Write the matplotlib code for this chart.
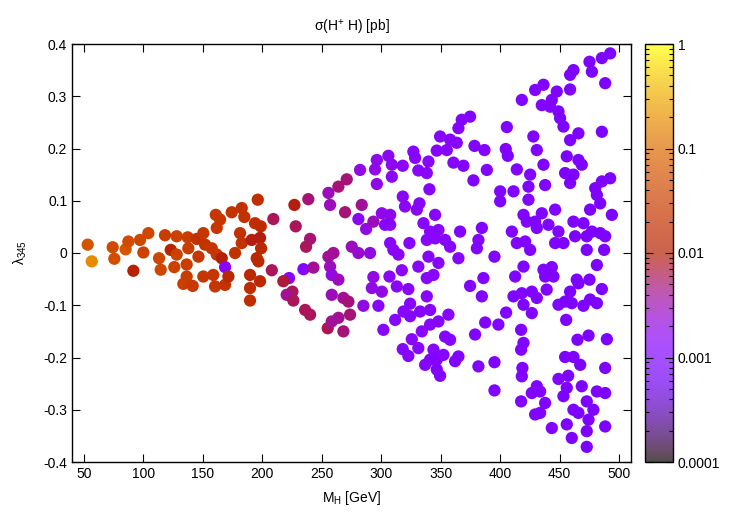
import numpy as np
import matplotlib
matplotlib.use("Agg")
import matplotlib.pyplot as plt
from matplotlib.colors import ListedColormap, LogNorm
from matplotlib.cm import ScalarMappable
from matplotlib.ticker import LogLocator, FixedLocator, NullFormatter

plt.rcParams['font.family'] = ['Liberation Sans', 'DejaVu Sans']
plt.rcParams['font.size'] = 10

# M_H < 200 GeV
mh_a = [53.2, 56.6, 74.2, 75.6, 85.1, 87.4, 91.6, 97.2, 100.0, 104.2, 113.2, 114.6, 118.2, 123.0, 128.0,
        128.0, 126.0, 137.3, 137.8, 136.4, 136.4, 133.6, 141.5, 144.9, 146.3,
        150.4, 151.9, 157.5, 161.7, 165.9, 168.7, 150.4, 158.8, 160.3, 168.7, 171.5, 160.9, 164.5, 161.7,
        174.3, 182.7, 184.9, 196.2, 181.3, 182.7, 177.1, 191.1, 193.9, 198.7, 198.1, 199.0, 195.3, 196.7,
        189.7, 198.1, 189.7, 189.7]
lam_a = [0.016, -0.016, 0.011, -0.011, 0.007, 0.022, -0.034, 0.025, 0.001, 0.038, -0.010, -0.032, 0.034, 0.006, 0.032,
         -0.003, -0.027, 0.030, 0.009, -0.022, -0.045, -0.059, -0.063, 0.027, -0.007,
         0.038, 0.016, 0.009, -0.003, -0.010, -0.027, -0.045, -0.042, -0.064, -0.061, -0.045, 0.073, 0.064, 0.048,
         0.078, 0.086, 0.069, 0.102, 0.038, 0.019, 0.000, 0.025, 0.057, 0.051, 0.029, 0.009, -0.010, -0.016,
         -0.042, -0.054, -0.067, -0.091]
sig_a = [0.06, 0.18, 0.045, 0.05, 0.06, 0.045, 0.011, 0.04, 0.035, 0.04, 0.04, 0.04, 0.03, 0.012, 0.035,
         0.035, 0.035, 0.03, 0.03, 0.03, 0.03, 0.03, 0.027, 0.02, 0.025,
         0.025, 0.022, 0.025, 0.025, 0.01, 0.0012, 0.025, 0.025, 0.025, 0.022, 0.014, 0.025, 0.025, 0.025,
         0.022, 0.02, 0.02, 0.018, 0.02, 0.02, 0.02, 0.009, 0.018, 0.016, 0.009, 0.015, 0.015, 0.015,
         0.014, 0.015, 0.016, 0.018]

# 200 - 300 GeV
mh_b = [209.3, 208.0, 227.0, 228.1, 238.7, 240.2, 236.8, 222.5, 217.7, 225.3, 220.5, 226.1, 234.6, 243.0,
        236.0, 240.2, 255.0, 255.6, 257.0, 255.6, 257.0, 258.4, 258.4, 258.4,
        259.8, 264.0, 271.0, 269.6, 282.2, 296.3, 294.8, 296.3, 283.6, 280.8, 287.3, 293.4, 275.2, 280.8, 290.6,
        264.0, 268.2, 272.4, 273.8, 264.0, 268.2, 285.0, 297.6, 293.4, 292.1]
lam_b = [0.065, -0.033, 0.092, 0.051, 0.103, 0.027, 0.012, -0.048, -0.054, -0.074, -0.080, -0.091, -0.031, -0.028,
         -0.109, -0.118, -0.144, 0.115, 0.092, -0.007, -0.026, -0.042, -0.080, -0.131,
         0.000, 0.127, 0.141, 0.078, 0.159, 0.178, 0.160, 0.132, 0.092, 0.065, 0.046, 0.060, 0.012, 0.000, 0.000,
         -0.051, -0.086, -0.093, -0.118, -0.124, -0.150, -0.101, -0.101, -0.046, -0.067]
sig_b = [0.006, 0.006, 0.009, 0.006, 0.005, 0.005, 0.006, 0.0012, 0.007, 0.006, 0.004, 0.006, 0.0012, 0.004,
         0.006, 0.006, 0.006, 0.003, 0.003, 0.004, 0.003, 0.002, 0.003, 0.004,
         0.004, 0.005, 0.005, 0.005, 0.002, 0.0018, 0.0018, 0.0018, 0.004, 0.0015, 0.002, 0.003, 0.003, 0.0025, 0.002,
         0.003, 0.004, 0.005, 0.005, 0.004, 0.005, 0.002, 0.0013, 0.002, 0.002]

# 300 - 400 GeV
mh_c = [300.5, 307.5, 303.2, 307.5, 306.0, 308.9, 308.9, 318.1, 318.1, 320.0, 327.0, 328.5, 331.2, 332.1,
        329.9, 338.3, 339.7, 346.7, 349.5, 340.5, 345.3, 335.5, 341.1, 348.1, 338.3, 345.3, 323.7, 307.5,
        310.2, 314.5, 339.7,
        300.5, 306.9, 317.3, 313.1, 322.8, 331.2, 338.3, 343.9, 338.3, 324.3, 318.7, 332.7, 341.1, 311.7,
        324.3, 301.8, 334.1, 341.1, 325.7, 331.2, 318.1, 322.8, 343.9, 336.9, 341.1, 346.7, 346.7,
        374.7, 367.7, 364.9, 357.9, 363.5, 355.1, 360.7, 369.1, 378.4, 386.8, 388.8, 377.5, 353.7, 357.9,
        366.3, 384.6, 381.7, 380.4, 364.9, 395.2,
        348.1, 385.9, 374.7, 384.6, 387.4, 398.5, 356.5, 348.1, 353.7, 357.9, 378.9, 352.3, 364.9, 362.1,
        381.7, 395.2, 349.5, 395.2]
lam_c = [0.076, 0.073, 0.054, 0.054, 0.186, 0.169, 0.146, 0.167, 0.108, 0.089, 0.194, 0.182, 0.158, 0.095,
         0.083, 0.153, 0.175, 0.196, 0.223, 0.122, 0.073, 0.057, 0.041, 0.044, 0.025, 0.028, 0.019, 0.019,
         0.006, -0.003, -0.007,
         -0.074, -0.045, -0.033, -0.064, -0.069, -0.026, -0.048, -0.042, -0.083, -0.097, -0.112, -0.112, -0.109, -0.128,
         -0.121, -0.147, -0.150, -0.137, -0.165, -0.182, -0.184, -0.197, -0.185, -0.214, -0.204, -0.223, -0.204,
         0.261, 0.255, 0.239, 0.217, 0.211, 0.197, 0.173, 0.167, 0.205, 0.197, 0.159, 0.139, 0.025, 0.012,
         0.041, 0.048, 0.025, 0.009, -0.010, -0.007,
         -0.019, -0.048, -0.063, -0.083, -0.133, -0.137, -0.118, -0.131, -0.160, -0.166, -0.156, -0.195, -0.198, -0.207,
         -0.217, -0.209, -0.235, -0.263]
sig_c = [0.0018, 0.0018, 0.0013, 0.0013, 0.0016, 0.0016, 0.0016, 0.0015, 0.0015, 0.0015, 0.0012, 0.0012, 0.0013, 0.0014,
         0.0014, 0.0013, 0.0013, 0.0012, 0.0012, 0.0012, 0.0013, 0.0013, 0.0013, 0.0013, 0.0013, 0.0013, 0.0012, 0.0012,
         0.0015, 0.0015, 0.0014,
         0.002, 0.0013, 0.0015, 0.0015, 0.0014, 0.0014, 0.0013, 0.0013, 0.0013, 0.0012, 0.0012, 0.0012, 0.0012, 0.0012,
         0.0012, 0.0015, 0.0013, 0.0012, 0.0013, 0.0013, 0.0012, 0.0012, 0.0012, 0.0012, 0.0011, 0.0011, 0.0011,
         0.0011, 0.0011, 0.0011, 0.0012, 0.0012, 0.0012, 0.0012, 0.0011, 0.0011, 0.0011, 0.0011, 0.0011, 0.0012, 0.0012,
         0.0011, 0.0011, 0.0011, 0.0011, 0.0012, 0.001,
         0.0014, 0.0011, 0.0011, 0.0011, 0.0011, 0.001, 0.0012, 0.0012, 0.0012, 0.0012, 0.0011, 0.0012, 0.0011, 0.0011,
         0.0011, 0.001, 0.0011, 0.001]

# 400 - 500 GeV
mh_d = [418.2, 429.4, 405.6, 404.7, 406.4, 414.0, 400.0, 400.0, 411.2, 425.2, 423.8, 423.8, 409.8, 419.6,
        422.4, 414.0, 421.0, 425.2,
        412.6, 419.6, 411.2, 418.2, 419.6, 426.6, 405.0, 417.6, 419.6, 417.6, 418.7, 418.2, 417.6, 426.6, 429.4,
        492.5, 485.5, 475.1, 477.1, 488.3, 461.6, 458.8, 458.8, 436.4, 447.6,
        443.4, 435.0, 442.0, 449.0, 450.4, 453.2, 485.5, 465.8, 458.8, 427.9,
        430.8, 456.0, 465.8, 468.6, 436.4, 454.6, 461.6, 458.8, 437.8, 492.5,
        485.5, 479.9, 481.3, 484.1, 475.6, 493.9, 446.2, 435.0, 429.4, 440.6,
        430.8, 449.0, 461.6, 470.0, 477.1, 484.1, 488.3, 463.0, 472.8, 446.2,
        453.2, 472.8, 487.4,
        481.3, 436.4, 443.4, 437.8, 444.8, 464.4, 475.1, 465.8, 458.8, 485.5,
        439.1, 430.8, 449.0, 454.6, 460.2, 470.0, 475.6, 481.3, 426.6, 455.5,
        465.0, 474.3, 489.7, 454.6, 461.6, 467.3, 488.3, 449.0, 457.2, 430.8,
        433.6, 437.8, 433.6, 456.0, 453.2, 468.6, 472.8, 478.4, 461.6, 465.8,
        474.3, 481.3, 488.3, 443.4, 456.0, 460.2, 472.8, 488.3, 472.8]
lam_d = [0.293, 0.312, 0.241, 0.199, 0.186, 0.160, 0.118, 0.099, 0.118, 0.150, 0.127, 0.102, 0.041, 0.073,
         0.060, 0.019, 0.022, 0.006,
         -0.045, -0.026, -0.083, -0.077, -0.099, -0.074, -0.114, -0.147, -0.172, -0.185, -0.220, -0.236, -0.284, -0.268, -0.309,
         0.382, 0.373, 0.366, 0.347, 0.325, 0.350, 0.341, 0.313, 0.322, 0.309,
         0.293, 0.283, 0.280, 0.271, 0.258, 0.242, 0.232, 0.229, 0.216, 0.223,
         0.197, 0.185, 0.178, 0.169, 0.169, 0.153, 0.150, 0.134, 0.130, 0.143,
         0.137, 0.124, 0.111, 0.095, 0.083, 0.073, 0.083, 0.076, 0.060, 0.054,
         0.048, 0.041, 0.060, 0.057, 0.041, 0.038, 0.032, 0.032, 0.032, 0.019,
         0.019, 0.006, 0.006,
         -0.023, -0.032, -0.027, -0.045, -0.045, -0.051, -0.051, -0.058, -0.074, -0.069,
         -0.070, -0.086, -0.099, -0.093, -0.096, -0.101, -0.089, -0.096, -0.115, -0.128,
         -0.166, -0.158, -0.165, -0.199, -0.199, -0.214, -0.220, -0.241, -0.235, -0.255,
         -0.265, -0.287, -0.306, -0.258, -0.274, -0.255, -0.284, -0.300, -0.300, -0.306,
         -0.319, -0.265, -0.268, -0.335, -0.328, -0.354, -0.341, -0.332, -0.371]
sig_d = [0.001] * 18 + [0.001] * 15 + \
        [0.0009, 0.0009, 0.0009, 0.0009, 0.0009, 0.0009, 0.0009, 0.0009, 0.001, 0.001,
         0.001, 0.001, 0.001, 0.001, 0.0009, 0.0009, 0.0009, 0.0009, 0.0009, 0.001,
         0.001, 0.0009, 0.0009, 0.0009, 0.001, 0.0009, 0.0009, 0.0009, 0.001, 0.0009,
         0.0009, 0.0009, 0.0009, 0.0009, 0.0009, 0.0009, 0.001, 0.001, 0.001, 0.001,
         0.001, 0.001, 0.0009, 0.0009, 0.0009, 0.0009, 0.0009, 0.0009, 0.0009, 0.001,
         0.0009, 0.0009, 0.0009] + \
        [0.0009, 0.001, 0.001, 0.001, 0.001, 0.0009, 0.0009, 0.0009, 0.0009, 0.0009,
         0.001, 0.001, 0.001, 0.0009, 0.0009, 0.0009, 0.0009, 0.0009, 0.001, 0.0009,
         0.0009, 0.0009, 0.0009, 0.0009, 0.0009, 0.0009, 0.0009, 0.001, 0.0009, 0.001,
         0.001, 0.001, 0.001, 0.0009, 0.0009, 0.0009, 0.0009, 0.0009, 0.0009, 0.0009,
         0.0009, 0.0009, 0.0009, 0.001, 0.0009, 0.0009, 0.0009, 0.0009, 0.0009]

mh = np.array(mh_a + mh_b + mh_c + mh_d)
lam = np.array(lam_a + lam_b + lam_c + lam_d)
sig = np.array(sig_a + sig_b + sig_c + sig_d)

x_ticks = [50, 100, 150, 200, 250, 300, 350, 400, 450, 500]
y_ticks = [-0.4, -0.3, -0.2, -0.1, 0, 0.1, 0.2, 0.3, 0.4]
y_labels = ['-0.4', '-0.3', '-0.2', '-0.1', '0', '0.1', '0.2', '0.3', '0.4']
cb_ticks = [1e-4, 1e-3, 1e-2, 1e-1, 1]
cb_labels = ['0.0001', '0.001', '0.01', '0.1', '1']

# gnuplot default palette (rgbformulae 7,5,15)
t = np.linspace(0, 1, 256)
rgb = np.stack([np.sqrt(t), t ** 3, np.clip(np.sin(2 * np.pi * t), 0, 1)], axis=1)
cmap = ListedColormap(rgb)
cmap_cb = ListedColormap(rgb * 0.7 + 0.3)
norm = LogNorm(vmin=1e-4, vmax=1)

fig = plt.figure(figsize=(7.5, 5.25), dpi=100)
ax = fig.add_axes([72 / 750, 63 / 525, 559 / 750, 418 / 525])
cax = fig.add_axes([645 / 750, 63 / 525, 28 / 750, 418 / 525])

ax.scatter(mh, lam, c=sig, cmap=cmap, norm=norm, s=78, linewidths=0)

ax.set_xlim(40, 510)
ax.set_ylim(-0.4, 0.4)
ax.set_xticks(x_ticks)
ax.set_yticks(y_ticks)
ax.set_yticklabels(y_labels)
ax.tick_params(direction='in', top=True, right=True, length=6, width=0.8, labelsize=10)
for sp in ax.spines.values():
    sp.set_linewidth(1.0)

ax.set_title('σ(H$^\\mathregular{+}$ H) [pb]', fontsize=10, pad=9)
ax.set_xlabel('M$_\\mathregular{H}$ [GeV]', fontsize=10, labelpad=6)
ax.set_ylabel('λ$_\\mathregular{345}$', fontsize=10, labelpad=10)

sm = ScalarMappable(norm=norm, cmap=cmap_cb)
cb = fig.colorbar(sm, cax=cax)
cb.outline.set_linewidth(1.0)
cax.yaxis.set_major_locator(FixedLocator(cb_ticks))
cax.set_yticklabels(cb_labels)
cax.yaxis.set_minor_locator(LogLocator(base=10, subs=np.arange(2, 10)))
cax.yaxis.set_minor_formatter(NullFormatter())
cax.yaxis.set_ticks_position('both')
cax.tick_params(which='both', direction='in', labelright=True, labelleft=False, labelsize=10, width=0.8)
cax.tick_params(which='major', length=6)
cax.tick_params(which='minor', length=3)

fig.savefig('out.png', dpi=100)
